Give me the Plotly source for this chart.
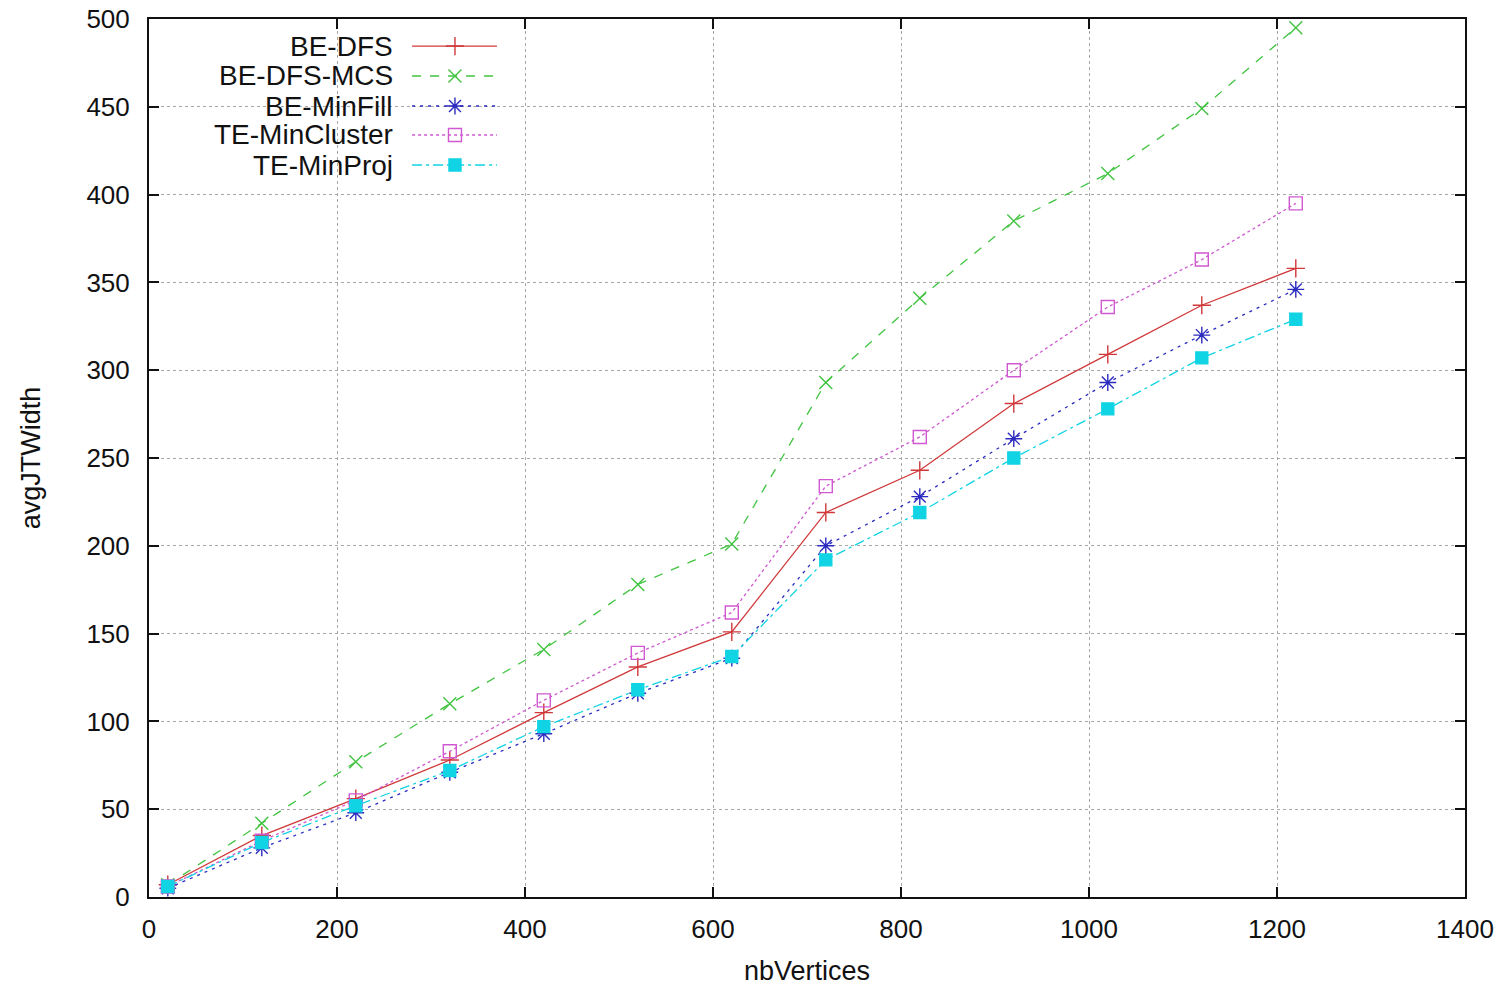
import plotly.graph_objects as go

# Number of vertices per test case
nb_vertices = [20, 120, 220, 320, 420, 520, 620, 720, 820, 920, 1020, 1120, 1220]

# Average junction-tree width for each method
be_dfs = [7, 35, 56, 78, 105, 131, 151, 219, 243, 281, 309, 337, 358]
be_dfs_mcs = [7, 42, 77, 110, 141, 178, 201, 293, 341, 385, 412, 449, 495]
be_minfill = [5, 28, 48, 71, 93, 116, 136, 200, 228, 261, 293, 320, 346]
te_mincluster = [6, 32, 55, 83, 112, 139, 162, 234, 262, 300, 336, 363, 395]
te_minproj = [6, 31, 52, 72, 97, 118, 137, 192, 219, 250, 278, 307, 329]

x_ticks = [0, 200, 400, 600, 800, 1000, 1200, 1400]
y_ticks = [0, 50, 100, 150, 200, 250, 300, 350, 400, 450, 500]

FONT = "Liberation Sans, Arial, sans-serif"

series = [
    ("BE-DFS", be_dfs, "#d0383a", "solid", "cross-thin", 13),
    ("BE-DFS-MCS", be_dfs_mcs, "#40c440", "dash", "x-thin", 13),
    ("BE-MinFill", be_minfill, "#2a2ac0", "3px,5px", "asterisk", 14),
    ("TE-MinCluster", te_mincluster, "#d058d0", "dot", "square-open", 13),
    ("TE-MinProj", te_minproj, "#10d4e4", "10px,4px,3px,4px", "square", 12),
]

fig = go.Figure()

for name, ys, color, dash, symbol, size in series:
    fig.add_trace(go.Scatter(
        x=nb_vertices, y=ys, name=name, mode="lines+markers",
        line=dict(color=color, width=1.3, dash=dash),
        marker=dict(symbol=symbol, size=size, color=color,
                    line=dict(color=color, width=1.4)),
        showlegend=False,
    ))

# Key in the upper-left corner: right-aligned labels with line samples
row_y = [0.9692, 0.9351, 0.9009, 0.8679, 0.8337]
for (name, ys, color, dash, symbol, size), ry in zip(series, row_y):
    fig.add_trace(go.Scatter(
        x=[0.1999, 0.2644], y=[ry, ry], mode="lines",
        line=dict(color=color, width=1.3, dash=dash),
        xaxis="x2", yaxis="y2", showlegend=False, hoverinfo="skip",
    ))
    fig.add_trace(go.Scatter(
        x=[0.2325], y=[ry], mode="markers",
        marker=dict(symbol=symbol, size=size, color=color,
                    line=dict(color=color, width=1.4)),
        xaxis="x2", yaxis="y2", showlegend=False, hoverinfo="skip",
    ))
    fig.add_annotation(
        x=0.1869, y=ry, xref="paper", yref="paper", text=name,
        showarrow=False, xanchor="right", yanchor="middle",
        font=dict(family=FONT, size=28, color="#111111"),
    )

axis_common = dict(
    showline=True, linecolor="#111111", linewidth=2, mirror="allticks",
    ticks="inside", ticklen=10, tickwidth=1.5, tickcolor="#111111",
    showgrid=True, gridcolor="#a8a8a8", gridwidth=1, griddash="dot",
    zeroline=False, automargin=False,
    tickfont=dict(family=FONT, size=26, color="#111111"),
    title_font=dict(family=FONT, size=27, color="#111111"),
)

fig.update_layout(
    width=1505, height=986,
    margin=dict(l=149, r=40, t=19, b=89),
    paper_bgcolor="white", plot_bgcolor="white",
    xaxis=dict(range=[0, 1400], tickvals=x_ticks, ticklabelstandoff=8,
               title=dict(text="nbVertices", standoff=20), **axis_common),
    yaxis=dict(range=[0, 500], tickvals=y_ticks, ticklabelstandoff=12,
               title=dict(text="avgJTWidth", standoff=38), **axis_common),
    xaxis2=dict(range=[0, 1], overlaying="x", visible=False, fixedrange=True),
    yaxis2=dict(range=[0, 1], overlaying="y", visible=False, fixedrange=True),
)

fig.write_html("out.html")
